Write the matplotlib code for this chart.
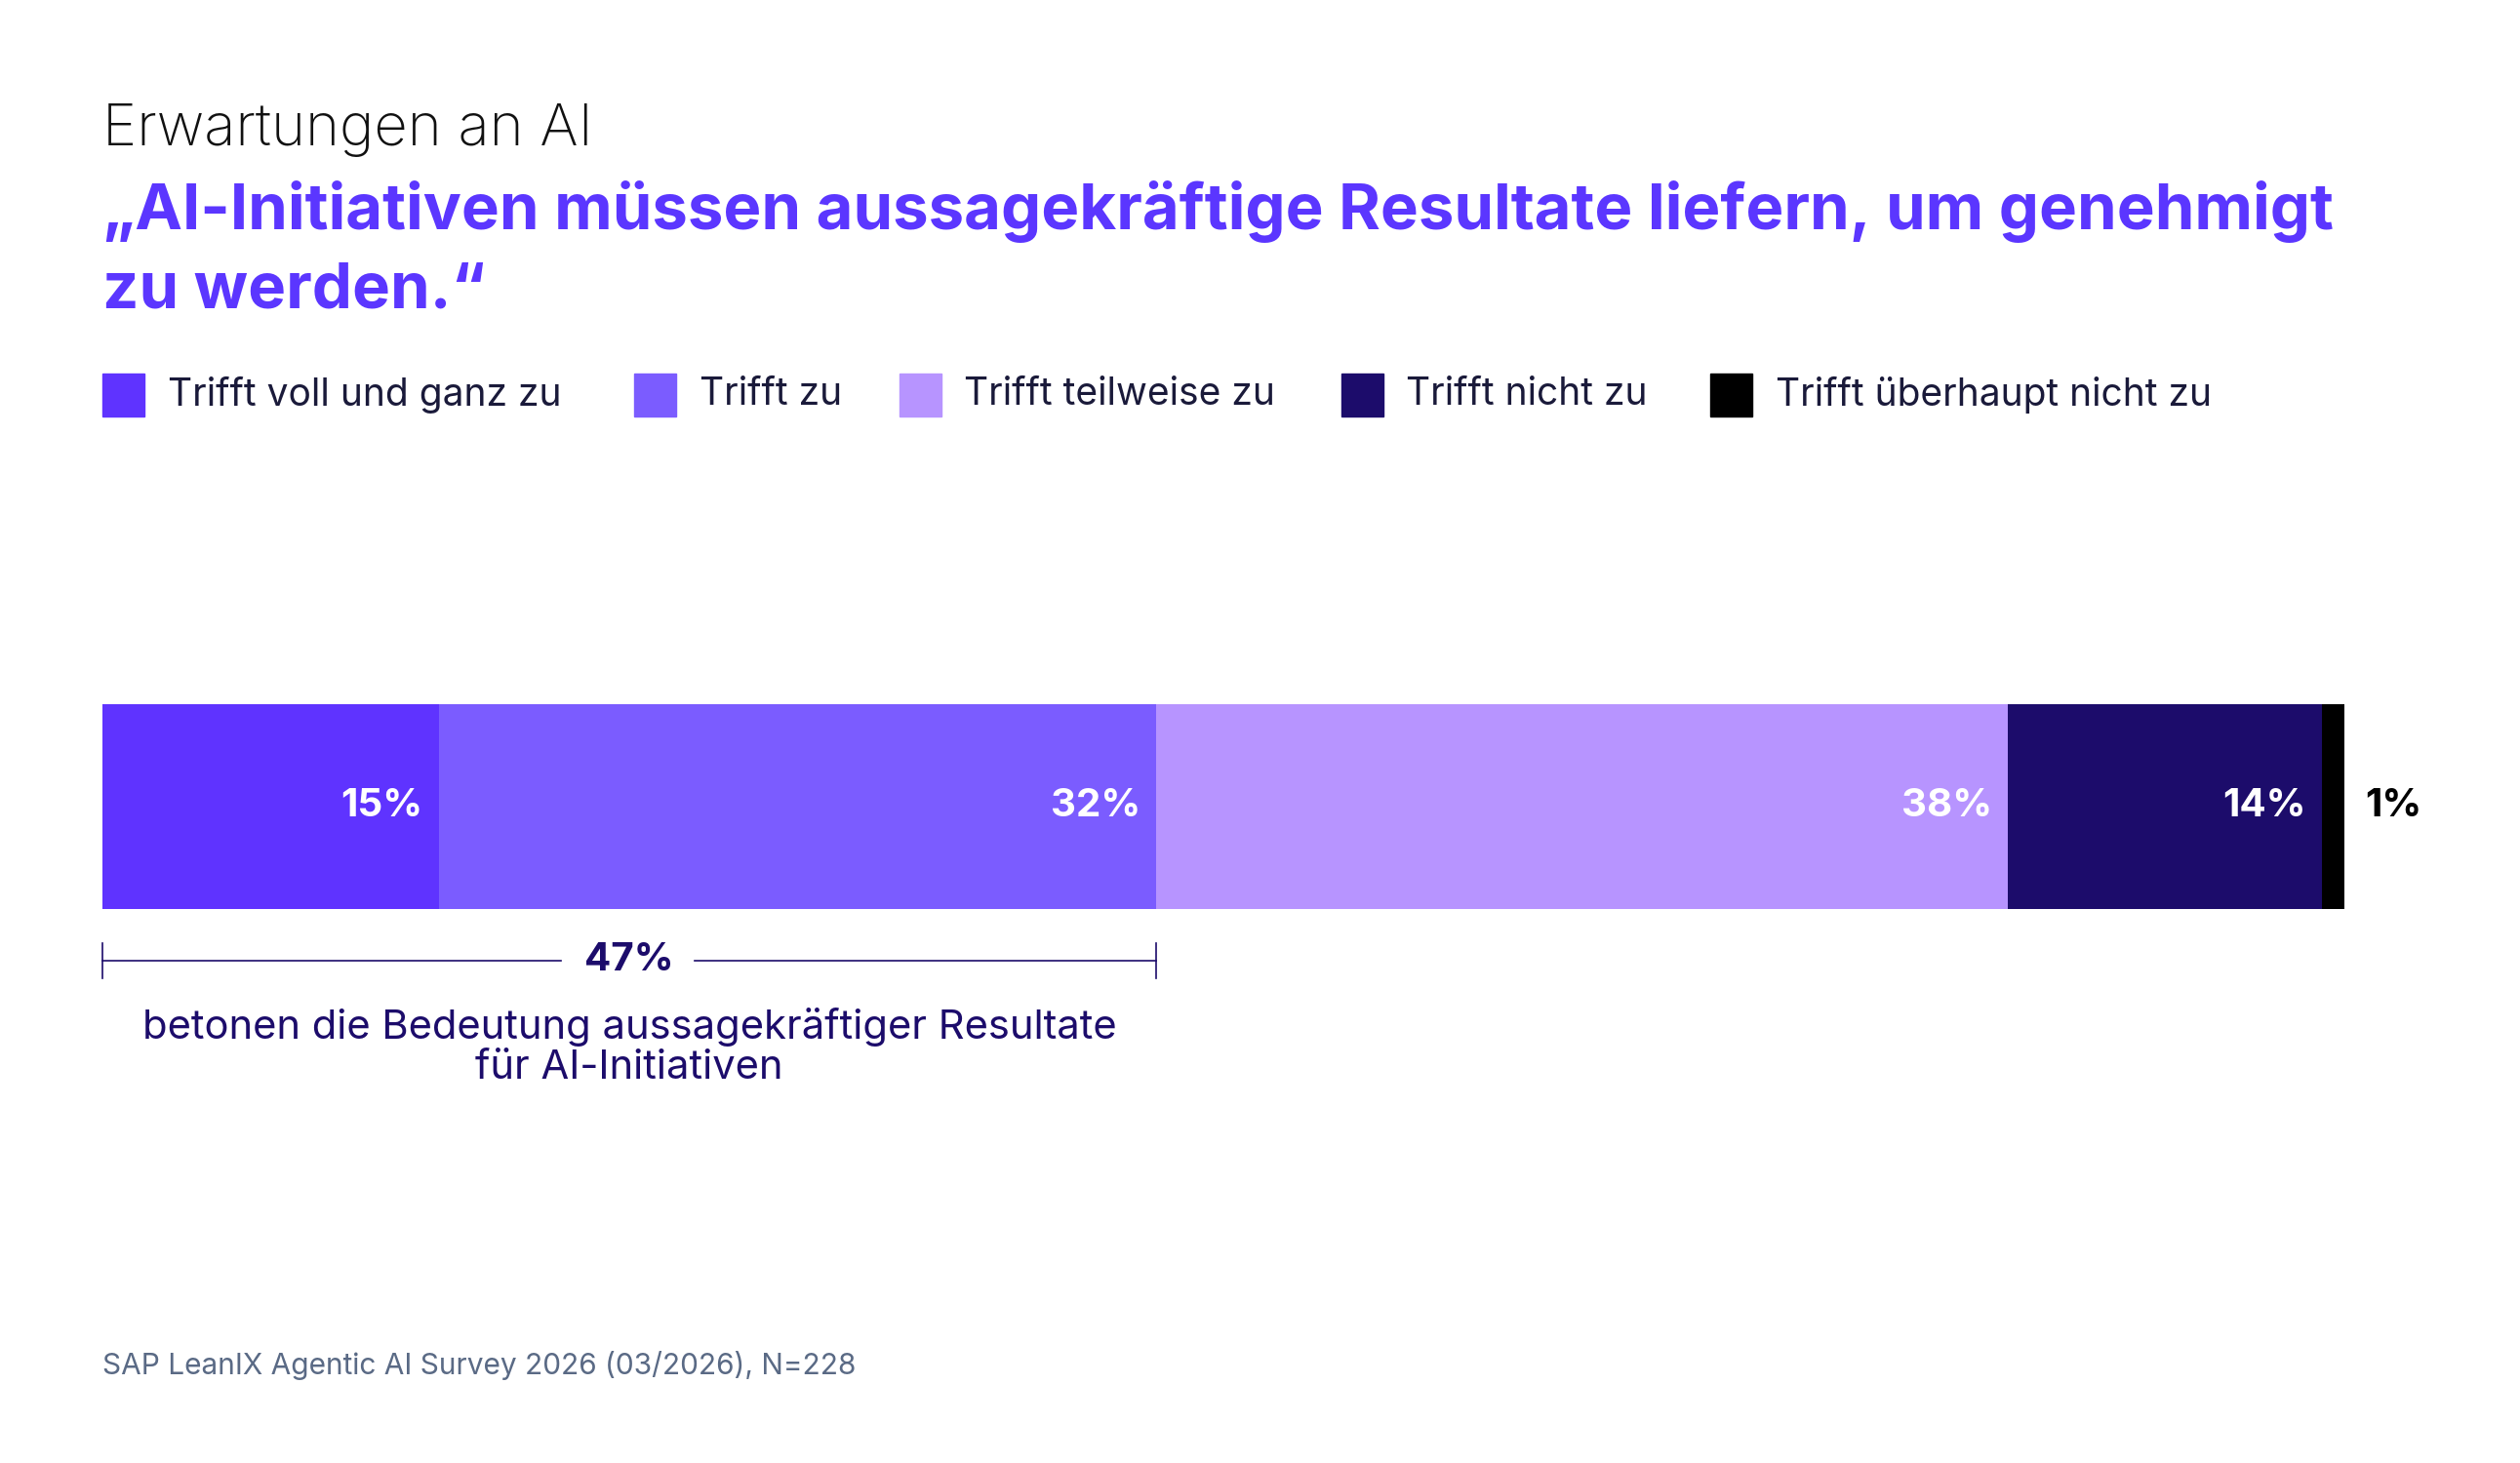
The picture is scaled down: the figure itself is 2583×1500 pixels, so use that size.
import matplotlib
matplotlib.use("Agg")
import matplotlib.pyplot as plt

categories = ["Trifft voll und ganz zu", "Trifft zu", "Trifft teilweise zu", "Trifft nicht zu", "Trifft überhaupt nicht zu"]
values = [15, 32, 38, 14, 1]
colors = ["#5f33ff", "#7b5cff", "#b794ff", "#1c0c6b", "#000000"]
label_colors = ["white", "white", "white", "white", "black"]

plt.rcParams['font.family'] = ['Inter', 'DejaVu Sans']
W, H = 2583, 1500
S = W / 1550
fig = plt.figure(figsize=(W/100, H/100), dpi=100)
fig.patch.set_facecolor("white")

def fx(x): return x*S/W
def fy(y): return 1 - y*S/H

fig.text(fx(63), fy(80), "Erwartungen an AI", fontsize=43, color="#111111", va="center", fontweight="light")
fig.text(fx(63), fy(130), "„AI-Initiativen müssen aussagekräftige Resultate liefern, um genehmigt",
         fontsize=47, color="#5b36ff", fontweight="bold", va="center")
fig.text(fx(63), fy(179), "zu werden.“", fontsize=47, color="#5b36ff", fontweight="bold", va="center")

leg_x = [63, 390, 553, 825, 1052]
for x, c, lab in zip(leg_x, colors, categories):
    fig.patches.append(plt.Rectangle((fx(x), fy(256)), 26*S/W, 26*S/H, color=c, transform=fig.transFigure))
    fig.text(fx(x+40), fy(243), lab, fontsize=28, color="#1a1a3a", va="center")

ax = fig.add_axes([fx(63), fy(559), fx(1442)-fx(63), fy(433)-fy(559)])
ax.set_xlim(0, sum(values))
ax.set_ylim(0, 1)
ax.axis("off")
left = 0
for v, c, lc in zip(values, colors, label_colors):
    ax.barh(0.5, v, left=left, height=1, color=c)
    if v > 2:
        ax.text(left + v - 0.7, 0.5, f"{v}%", ha="right", va="center", color=lc, fontsize=29, fontweight="bold")
    else:
        ax.text(left + v + 0.9, 0.5, f"{v}%", ha="left", va="center", color=lc, fontsize=29, fontweight="bold")
    left += v

b = values[0] + values[1]
dark = "#1c0c6b"
bx0, bx1 = fx(63), fx(63) + (fx(1442)-fx(63))*b/100
by = fy(591)
fig.lines.append(plt.Line2D([bx0, fx(345)], [by, by], color=dark, lw=1.2, transform=fig.transFigure))
fig.lines.append(plt.Line2D([fx(427), bx1], [by, by], color=dark, lw=1.2, transform=fig.transFigure))
for x in (bx0, bx1):
    fig.lines.append(plt.Line2D([x, x], [fy(580), fy(602)], color=dark, lw=1.2, transform=fig.transFigure))
fig.text((bx0+bx1)/2, by, f"{b}%", ha="center", va="center", fontsize=29, fontweight="bold", color=dark)
fig.text((bx0+bx1)/2, fy(644), "betonen die Bedeutung aussagekräftiger Resultate\nfür AI-Initiativen",
         ha="center", va="center", fontsize=30, color=dark, linespacing=1.1)

fig.text(fx(63), fy(840), "SAP LeanIX Agentic AI Survey 2026 (03/2026), N=228", fontsize=21.5, color="#5a6a85", va="center")

fig.savefig("out.png", dpi=100)
